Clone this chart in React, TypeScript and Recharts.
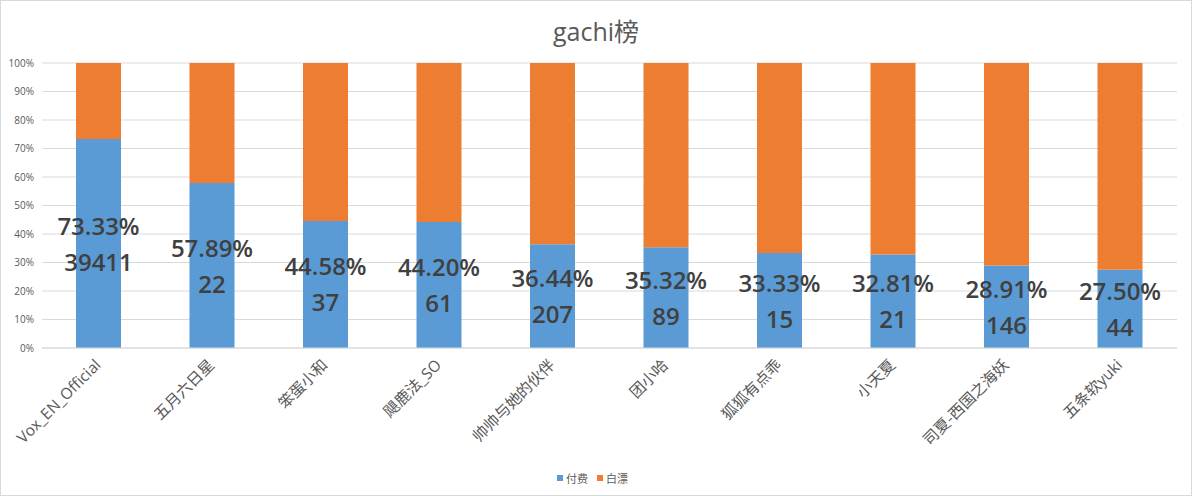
import React from 'react';
import { BarChart, Bar, XAxis, YAxis, CartesianGrid, Legend, LabelList } from 'recharts';

const names = ['Vox_EN_Official', '五月六日星', '笨蛋小和', '飓鹿法_SO', '帅帅与她的伙伴', '团小哈', '狐狐有点乖', '小天夏', '司夏-西国之海妖', '五条软yuki'];
const paidPct = [73.33, 57.89, 44.58, 44.2, 36.44, 35.32, 33.33, 32.81, 28.91, 27.5];
const freePct = [26.67, 42.11, 55.42, 55.8, 63.56, 64.68, 66.67, 67.19, 71.09, 72.5];
const paidCount = [39411, 22, 37, 61, 207, 89, 15, 21, 146, 44];
const yTicks = [0, 10, 20, 30, 40, 50, 60, 70, 80, 90, 100];

const data = names.map((n, i) => ({ name: n, paid: paidPct[i], free: freePct[i], count: paidCount[i] }));

const FONT = '"Open Sans", "Noto Sans CJK SC", sans-serif';

const XTick = (props: any) => {
  const { x, y, payload } = props;
  return (
    <g transform={`translate(${x + 3},${y + 10})`}>
      <text x={0} y={0} textAnchor="end" transform="rotate(-45)" fill="#595959" fontSize={15.5} fontFamily={FONT}>
        {payload.value}
      </text>
    </g>
  );
};

const BarLabel = (props: any) => {
  const { x, y, width, height, index } = props;
  const cx = x + width / 2;
  const mid = y + height / 2;
  return (
    <text textAnchor="middle" fill="#404040" fontSize={24} fontWeight={600} fontFamily={FONT}>
      <tspan x={cx} y={mid - 9}>{paidPct[index].toFixed(2)}%</tspan>
      <tspan x={cx} y={mid + 27}>{paidCount[index]}</tspan>
    </text>
  );
};

const LegendContent = () => (
  <div style={{ display: 'flex', justifyContent: 'center', alignItems: 'center', height: 20, fontFamily: FONT, fontSize: 11, color: '#595959' }}>
    <span style={{ display: 'inline-block', width: 6, height: 6, background: '#5B9BD5', marginRight: 3 }} />
    <span style={{ marginRight: 9 }}>付费</span>
    <span style={{ display: 'inline-block', width: 6, height: 6, background: '#ED7D31', marginRight: 3 }} />
    <span>白漂</span>
  </div>
);

export default function App() {
  return (
    <div style={{ position: 'fixed', left: 0, top: 0, width: 1192, height: 496, background: '#fff' }}>
      <div style={{ position: 'absolute', left: 0, top: 0, width: 1192, height: 496, border: '1px solid #d9d9d9', boxSizing: 'border-box', pointerEvents: 'none', zIndex: 2 }} />
      <div style={{ position: 'absolute', left: 0, top: 12, width: 1192, textAlign: 'center', fontFamily: FONT, fontSize: 25, color: '#595959', zIndex: 1 }}>
        gachi榜
      </div>
      <BarChart width={1192} height={496} data={data} margin={{ top: 63, right: 15, bottom: 18, left: 8 }} barSize={45}>
        <CartesianGrid vertical={false} stroke="#d9d9d9" />
        <XAxis dataKey="name" interval={0} height={110} tick={<XTick />} tickLine={false} axisLine={{ stroke: '#d9d9d9' }} />
        <YAxis width={34} domain={[0, 100]} ticks={yTicks} tickFormatter={(v: number) => `${v}%`} tick={{ fill: '#595959', fontSize: 10, fontFamily: FONT }} tickLine={false} axisLine={false} />
        <Legend verticalAlign="bottom" content={<LegendContent />} wrapperStyle={{ bottom: 8, height: 20 }} />
        <Bar dataKey="paid" name="付费" stackId="a" fill="#5B9BD5" isAnimationActive={false}>
          <LabelList dataKey="paid" content={<BarLabel />} />
        </Bar>
        <Bar dataKey="free" name="白漂" stackId="a" fill="#ED7D31" isAnimationActive={false} />
      </BarChart>
    </div>
  );
}
